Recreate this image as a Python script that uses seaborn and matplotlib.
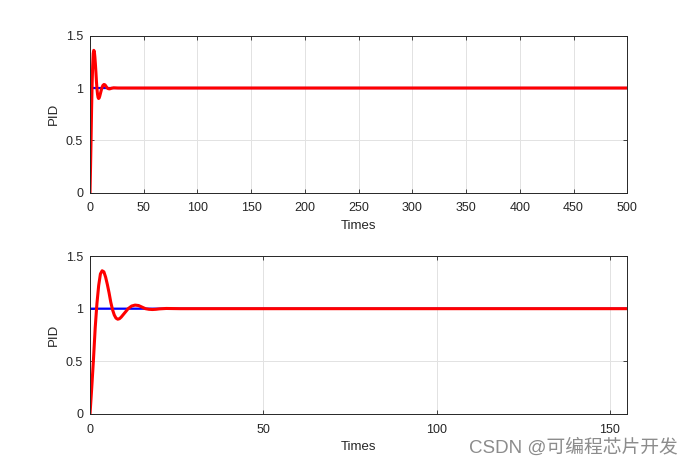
import numpy as np
import pandas as pd
import matplotlib
matplotlib.use("Agg")
import matplotlib.pyplot as plt
import seaborn as sns

# ---- data ----
times = [0, 0.5, 1, 1.5, 2, 2.5, 3, 3.5, 4, 4.5, 5, 5.5, 6, 6.5, 7, 7.5, 8, 8.5,
         9, 10, 11, 12, 13, 14, 15, 16, 17, 18, 19, 20, 22, 24, 26, 500]
response = [0.0, 0.25, 0.52, 0.82, 1.05, 1.22, 1.33, 1.36, 1.35, 1.30, 1.23, 1.15,
            1.06, 0.99, 0.94, 0.91, 0.90, 0.905, 0.92, 0.96, 1.00, 1.025, 1.034,
            1.03, 1.015, 1.00, 0.994, 0.992, 0.994, 0.998, 1.002, 1.001, 1.0, 1.0]
ref_times = [0, 500]
reference = [1.0, 1.0]

xlims = [500, 155]
xticks_top = [0, 50, 100, 150, 200, 250, 300, 350, 400, 450, 500]
xticks_bot = [0, 50, 100, 150]
yticks = [0, 0.5, 1, 1.5]
ytick_labels = ["0", "0.5", "1", "1.5"]

sns.set_theme(style="white")
plt.rcParams['font.family'] = ['Liberation Sans', 'DejaVu Sans']

df_resp = pd.DataFrame({"Times": times, "PID": response})
df_ref = pd.DataFrame({"Times": ref_times, "PID": reference})

fig = plt.figure(figsize=(6.94, 4.66), dpi=100)
positions = [[0.1297, 0.5865, 0.7742, 0.3369], [0.1297, 0.1116, 0.7742, 0.339]]
tick_sets = [xticks_top, xticks_bot]

for pos, xl, xt in zip(positions, xlims, tick_sets):
    ax = fig.add_axes(pos)
    sns.lineplot(data=df_ref, x="Times", y="PID", ax=ax, color=(0, 0, 1),
                 linewidth=1.6, estimator=None, sort=False)
    sns.lineplot(data=df_resp, x="Times", y="PID", ax=ax, color=(1, 0, 0),
                 linewidth=2.2, estimator=None, sort=False)
    for ln in ax.lines:
        ln.set_snap(False)
    ax.set_xlim(0, xl)
    ax.set_ylim(0, 1.5)
    ax.set_xticks(xt)
    ax.set_xticklabels([str(v) for v in xt])
    ax.set_yticks(yticks)
    ax.set_yticklabels(ytick_labels)
    ax.grid(True, color="#e2e2e2", linewidth=0.7)
    ax.set_axisbelow(True)
    for s in ax.spines.values():
        s.set_color("#262626")
        s.set_linewidth(0.7)
        s.set_visible(True)
    ax.tick_params(axis="both", direction="in", length=3, width=0.6,
                   colors="#262626", labelsize=9, pad=5,
                   top=True, right=True, bottom=True, left=True)
    ax.tick_params(axis="x", pad=7)
    ax.set_xlabel("Times", fontsize=9.5, color="#262626", labelpad=4)
    ax.set_ylabel("PID", fontsize=9.5, color="#262626", labelpad=4)

fig.text(0.976, 0.028, "CSDN @可编程芯片开发", ha="right", va="baseline",
         fontsize=13.5, color="#8c8c8c",
         family=['Liberation Sans', 'Noto Sans CJK SC', 'DejaVu Sans'])

fig.savefig("out.png", dpi=100, facecolor="white")
